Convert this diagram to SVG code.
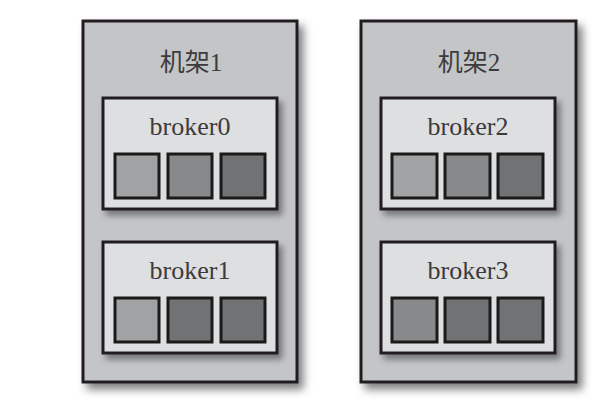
<svg xmlns="http://www.w3.org/2000/svg" width="612" height="405" viewBox="0 0 612 405">
<defs>
<filter id="sh" x="-10%" y="-10%" width="130%" height="130%">
<feDropShadow dx="5" dy="6" stdDeviation="4" flood-color="#000" flood-opacity="0.5"/>
</filter>
<filter id="sh2" x="-10%" y="-10%" width="130%" height="130%">
<feDropShadow dx="4" dy="5" stdDeviation="3" flood-color="#000" flood-opacity="0.4"/>
</filter>
</defs>
<style>
.rack{fill:#c4c5c7;stroke:#231f20;stroke-width:3;filter:url(#sh)}
.broker{fill:#dedfe1;stroke:#231f20;stroke-width:3;filter:url(#sh2)}
.sq{stroke:#1a1a1a;stroke-width:3}
.l{fill:#a1a2a4}.m{fill:#88898b}.d{fill:#717274}
.t{font-family:"Liberation Serif","Noto Sans CJK SC",serif;fill:#3b3b3d;text-anchor:middle}
.rt{font-size:25px}
.bt{font-size:26px}
</style>
<rect width="612" height="405" fill="#fff"/>
<g id="rack1">
<rect class="rack" x="83" y="21" width="214" height="361"/>
<text class="t rt" x="191" y="71">机架1</text>
</g>
<g id="rack2">
<rect class="rack" x="361" y="21" width="215" height="361"/>
<text class="t rt" x="469" y="71">机架2</text>
</g>
<g id="broker0">
<rect class="broker" x="103" y="98" width="174" height="111"/>
<text class="t bt" x="190" y="135">broker0</text>
<rect class="sq l" x="115" y="154" width="44" height="44"/>
<rect class="sq m" x="168" y="154" width="44" height="44"/>
<rect class="sq d" x="221" y="154" width="44" height="44"/>
</g>
<g id="broker1">
<rect class="broker" x="103" y="242" width="174" height="111"/>
<text class="t bt" x="190" y="279">broker1</text>
<rect class="sq l" x="115" y="298" width="44" height="44"/>
<rect class="sq d" x="168" y="298" width="44" height="44"/>
<rect class="sq d" x="221" y="298" width="44" height="44"/>
</g>
<g id="broker2">
<rect class="broker" x="381" y="98" width="174" height="111"/>
<text class="t bt" x="468" y="135">broker2</text>
<rect class="sq l" x="392" y="154" width="45" height="44"/>
<rect class="sq m" x="445" y="154" width="45" height="44"/>
<rect class="sq d" x="498" y="154" width="45" height="44"/>
</g>
<g id="broker3">
<rect class="broker" x="381" y="242" width="174" height="111"/>
<text class="t bt" x="468" y="279">broker3</text>
<rect class="sq m" x="392" y="298" width="45" height="44"/>
<rect class="sq d" x="445" y="298" width="45" height="44"/>
<rect class="sq d" x="498" y="298" width="45" height="44"/>
</g>
<g id="connectors"></g>
</svg>
